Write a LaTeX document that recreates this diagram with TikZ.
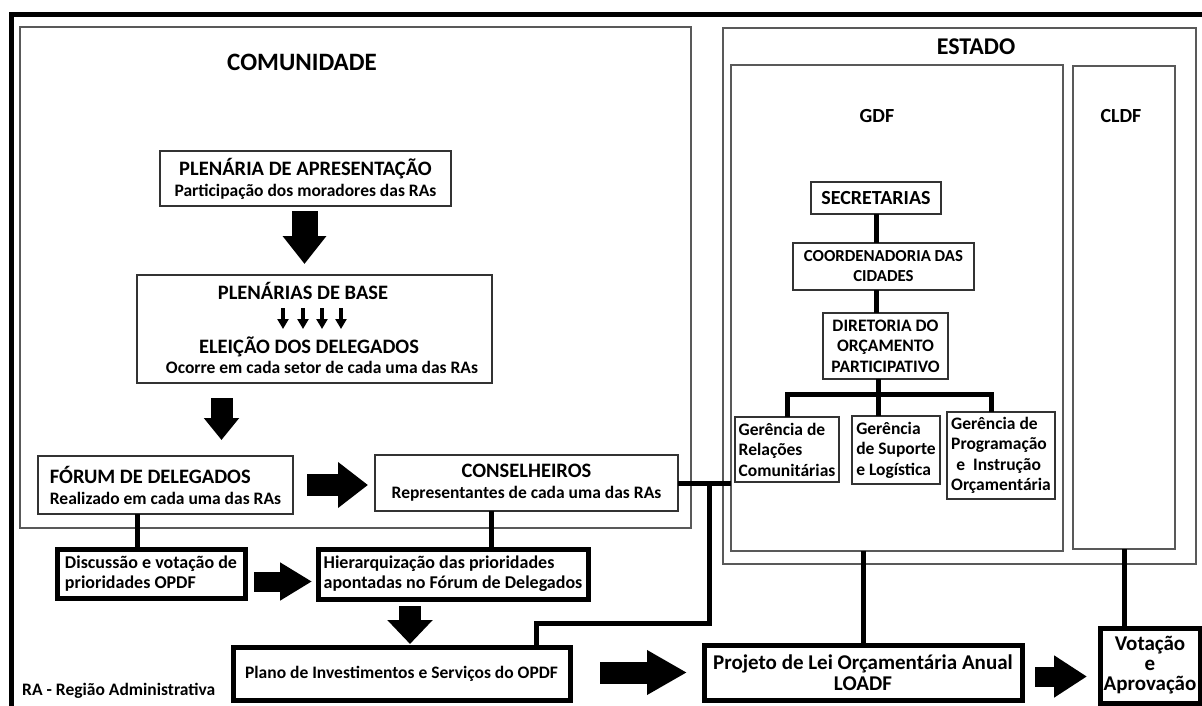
\documentclass[tikz,border=0pt]{standalone}
\usepackage{fontspec}
\setmainfont{Carlito}
\usetikzlibrary{arrows.meta,calc,positioning}

\def\ttl{\fontsize{20.5}{22}\selectfont\bfseries}
\def\sbt{\fontsize{17.5}{21}\selectfont\bfseries}
\def\orgtxt{\fontsize{17.5}{20.5}\selectfont\bfseries}

\tikzstyle{area}=[draw=black!65,line width=1.6pt,inner sep=0pt,outer sep=0pt]
\tikzstyle{box}=[draw=black!80,line width=1.6pt,inner sep=0pt,outer sep=0pt,font=\sbt]
\tikzstyle{thickbox}=[draw=black,line width=5pt,inner sep=0pt,outer sep=0pt,font=\sbt]
\tikzstyle{title}=[inner sep=0pt,anchor=base]
\tikzstyle{link}=[draw,line width=5pt]
\tikzset{fat/.style n args={3}{draw,line width=#1,-{Triangle[width=#2,length=#3]}}}

\begin{document}
\begin{tikzpicture}[x=1pt,y=-1pt]
\useasboundingbox (0,0) rectangle (1202,706);

% outer frame
\draw[line width=5pt] (11,720) -- (11,15) -- (1215,15);

% the two big areas
\node[area,minimum width=671pt,minimum height=501pt] (comm) at (355.5,277.5) {};
\node[area,minimum width=473pt,minimum height=536pt] (estado) at (959.5,296) {};
\node[area,minimum width=332pt,minimum height=486pt] (gdf) at (897,308) {};
\node[area,minimum width=102pt,minimum height=483pt] (cldf) at (1124,307.5) {};

\node[title,font=\fontsize{25}{30}\selectfont\bfseries] (commtit) at (302,71) {COMUNIDADE};
\node[title,font=\fontsize{24}{28}\selectfont\bfseries] (esttit) at (976,55) {ESTADO};
\node[title,font=\fontsize{20}{24}\selectfont\bfseries] (gdftit) at (877,123) {GDF};
\node[title,font=\fontsize{20}{24}\selectfont\bfseries] (cldftit) at (1121,123) {CLDF};

% comunidade
\node[box,align=center,minimum width=291pt,minimum height=55pt] (plen) at (305.5,178.5)
    {{\ttl PLENÁRIA DE APRESENTAÇÃO}\\Participação dos moradores das RAs};
\node[box,minimum width=355pt,minimum height=108pt] (base) at (314.5,329) {};
\node[title,font=\ttl] (basetit) at (303,299) {PLENÁRIAS DE BASE};
\node[title,font=\ttl] (eleic) at (309,353) {ELEIÇÃO DOS DELEGADOS};
\node[title,font=\sbt] (ocorre) at (322,373) {Ocorre em cada setor de cada uma das RAs};
\node[box,align=left,minimum width=255pt,minimum height=58pt] (forum) at (165.5,485)
    {{\ttl FÓRUM DE DELEGADOS}\\Realizado em cada uma das RAs};
\node[box,align=center,minimum width=303pt,minimum height=56pt] (cons) at (526.5,483)
    {{\ttl CONSELHEIROS}\\Representantes de cada uma das RAs};

% bottom row
\node[thickbox,align=left,minimum width=188pt,minimum height=49pt,font=\fontsize{18}{20}\selectfont\bfseries] (disc) at (151,573.5)
    {Discussão e votação de\\prioridades OPDF};
\node[thickbox,align=left,minimum width=270pt,minimum height=50pt,font=\fontsize{18}{20}\selectfont\bfseries] (hier) at (453,574)
    {Hierarquização das prioridades\\apontadas no Fórum de Delegados};
\node[thickbox,minimum width=337pt,minimum height=53pt] (plano) at (401.5,673.5) {Plano de Investimentos e Serviços do OPDF};
\node[thickbox,align=center,minimum width=318pt,minimum height=55pt,font=\fontsize{21}{21}\selectfont\bfseries] (proj) at (863,672.5)
    {Projeto de Lei Orçamentária Anual\\LOADF};
\node[thickbox,align=center,minimum width=100pt,minimum height=75pt,font=\fontsize{21}{20}\selectfont\bfseries] (vot) at (1150,665.5)
    {Votação\\e\\Aprovação};
\node[anchor=base west,inner sep=0pt,font=\sbt] (ranote) at (22,695) {RA - Região Administrativa};

% gdf
\node[box,minimum width=130pt,minimum height=32pt,font=\fontsize{20}{24}\selectfont\bfseries] (sec) at (876,198) {SECRETARIAS};
\node[box,align=center,minimum width=181pt,minimum height=47pt,font=\fontsize{16.8}{20}\selectfont\bfseries] (coord) at (883.5,266.5)
    {COORDENADORIA DAS\\CIDADES};
\node[box,align=center,minimum width=125pt,minimum height=66pt,font=\orgtxt] (dir) at (885.5,346)
    {DIRETORIA DO\\ORÇAMENTO\\PARTICIPATIVO};
\node[box,align=left,minimum width=104pt,minimum height=65pt,font=\orgtxt] (rel) at (787,449.5)
    {Gerência de\\Relações\\Comunitárias};
\node[box,align=left,minimum width=88pt,minimum height=68pt,font=\orgtxt] (sup) at (896,450)
    {Gerência\\de Suporte\\e Logística};
\node[box,align=left,minimum width=108pt,minimum height=87pt,font=\orgtxt] (prog) at (1001,455.5)
    {Gerência de\\Programação\\\hspace*{0.3em}e~ Instrução\\Orçamentária};

% block arrows
\draw[fat={26pt}{42pt}{28pt}] ($(plen.south)+(-1,5)$) -- ($(plen.south |- base.north)+(-1,-11)$);
\foreach \dx in {-20,0,19,38}
    \draw[fat={4pt}{11pt}{10pt}] ($(basetit.base)+(\dx,9)$) -- ($(basetit.base)+(\dx,30)$);
\coordinate (a3) at ($(base.south)+(-93,0)$);
\draw[fat={22pt}{34pt}{22pt}] ($(a3)+(0,15)$) -- ($(a3 |- forum.north)+(0,-16)$);
\draw[fat={22pt}{44pt}{30pt}] ($(forum.east)+(14,0)$) -- ($(forum.east -| cons.west)+(-7,0)$);
\draw[fat={20pt}{36pt}{32pt}] ($(disc.east)+(9,8)$) -- ($(disc.east -| hier.west)+(-6,8)$);
\coordinate (a6) at ($(hier.south)+(-43,0)$);
\draw[fat={22pt}{44pt}{24pt}] ($(a6)+(0,7)$) -- ($(a6 |- plano.north)+(0,-3)$);
\draw[fat={22pt}{42pt}{40pt}] ($(plano.east)+(30,-1)$) -- ($(plano.east -| proj.west)+(-17,-1)$);
\draw[fat={20pt}{40pt}{33pt}] ($(proj.east)+(13,4)$) -- ($(proj.east -| vot.west)+(-13,4)$);

% links
\coordinate (l1) at ($(forum.south)+(-28,0)$);
\draw[link] (l1) -- (l1 |- disc.north);
\coordinate (l2) at ($(cons.south)+(-35,0)$);
\draw[link] (l2) -- (l2 |- hier.north);
\draw[link] (cons.east) -- (cons.east -| gdf.west);
\coordinate (jn) at ($(cons.east)+(31,0)$);
\draw[link] (jn) -- ++(0,140) -| ($(plano.north)+(135,0)$);
\draw[link] (proj.north) -- (proj.north |- gdf.south);
\draw[link] (cldf.south) -- (cldf.south |- vot.north);

\draw[link] (sec.south) -- (sec.south |- coord.north);
\coordinate (l3) at ($(coord.south)+(-7.5,0)$);
\draw[link] (l3) -- (l3 |- dir.north);
\coordinate (l4) at ($(dir.south)+(-7.5,0)$);
\draw[link] (l4) -- (l4 |- sup.north);
\draw[link] (rel.north) |- ($(dir.south)+(0,15)$) -| ($(prog.north)+(-10,0)$);

\end{tikzpicture}
\end{document}
